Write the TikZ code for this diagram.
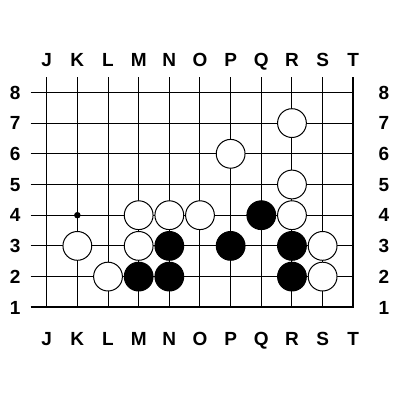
\documentclass[tikz,border=0pt]{standalone}
\usepackage{fontspec}
\setmainfont{Liberation Sans}
\usetikzlibrary{positioning}

\begin{document}
\begin{tikzpicture}[x=30.66pt, y=30.7pt,
					gridline/.style={draw=black, line width=1pt},
					edgeline/.style={draw=black, line width=2.4pt},
					coordlabel/.style={font=\bfseries\fontsize{19}{19}\selectfont, inner sep=0pt, text height=13.6pt, text depth=0pt},
					whitestone/.style={circle, draw=black, fill=white, line width=1pt, minimum size=28.8pt, inner sep=0pt},
					blackstone/.style={circle, draw=black, fill=black, line width=1pt, minimum size=28.8pt, inner sep=0pt},
					starpoint/.style={circle, fill=black, minimum size=6.5pt, inner sep=0pt}
					]
					\useasboundingbox (-0.523,-2.02) rectangle (12.523,11.01);
					
					% Grid
					\foreach \i in {1,...,10} \draw[gridline] (\i,1) -- (\i,8.5);
					\foreach \r in {2,...,8} \draw[gridline] (0.48,\r) -- (11,\r);
					\draw[edgeline] (0.48,1) -- (11,1) -- (11,8.5);
					
					% Coordinates
					\foreach \col [count=\i] in {J,K,L,M,N,O,P,Q,R,S,T} {
						\node[coordlabel] (top-\col) at (\i,9.07) {\col};
						\node[coordlabel] (bot-\col) at (\i,-0.03) {\col};
					}
					\foreach \r in {1,...,8} {
						\node[coordlabel] (left-\r) at (-0.03,\r) {\r};
						\node[coordlabel] (right-\r) at (12,\r) {\r};
					}
					
					% Star point
					\node[starpoint] (star-K4) at (2,4) {};
					
					% White stones
					\foreach \x/\y/\pt in {9/7/R7, 7/6/P6, 9/5/R5, 4/4/M4, 5/4/N4, 6/4/O4, 9/4/R4, 2/3/K3, 4/3/M3, 10/3/S3, 3/2/L2, 10/2/S2}
						\node[whitestone] (w-\pt) at (\x,\y) {};
					
					% Black stones
					\foreach \x/\y/\pt in {8/4/Q4, 5/3/N3, 7/3/P3, 9/3/R3, 4/2/M2, 5/2/N2, 9/2/R2}
						\node[blackstone] (b-\pt) at (\x,\y) {};
					
				\end{tikzpicture}
\end{document}
